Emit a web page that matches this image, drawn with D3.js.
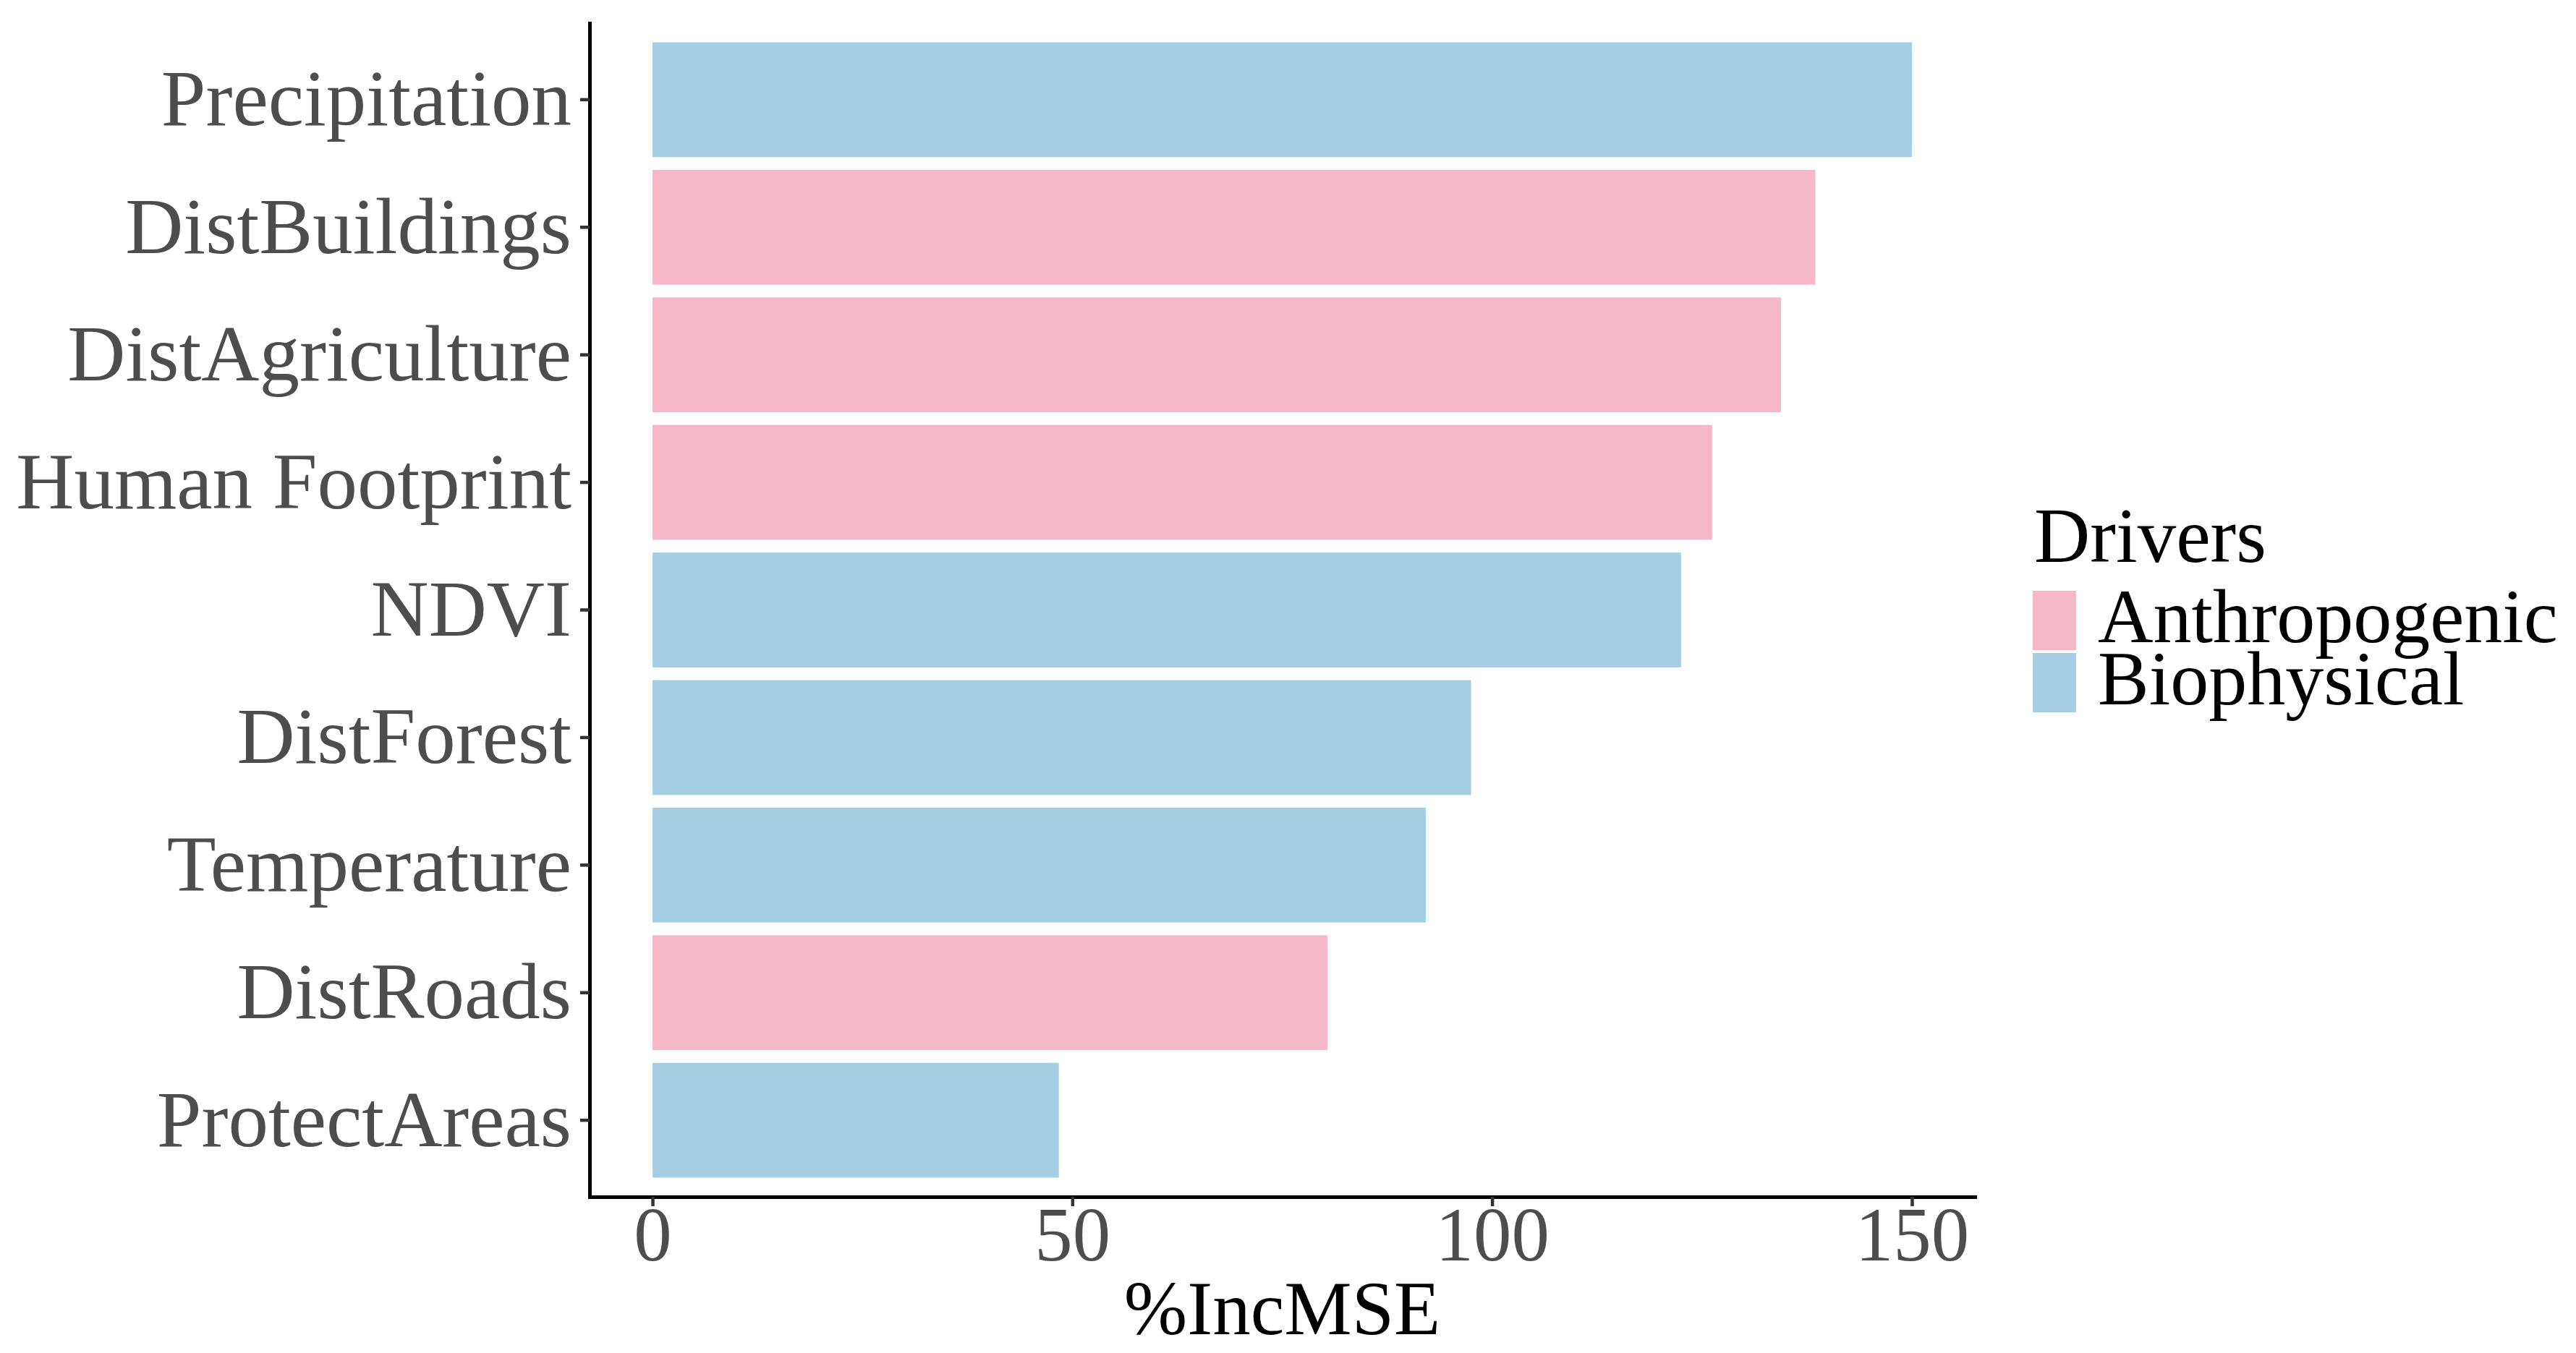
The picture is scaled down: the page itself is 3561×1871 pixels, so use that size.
<!doctype html>
<html>
<head>
<style>
  body { margin: 0; background: #fff; }
  text { font-family: "Liberation Serif", serif; }
</style>
<script src="https://d3js.org/d3.v7.min.js"></script>
</head>
<body>
<svg width="3561" height="1871"></svg>
<script>
// data
var drivers = ["Precipitation", "DistBuildings", "DistAgriculture", "Human Footprint",
               "NDVI", "DistForest", "Temperature", "DistRoads", "ProtectAreas"];
var incMSE = [150.0, 138.5, 134.4, 126.2, 122.5, 97.5, 92.1, 80.4, 48.4];
var driverType = ["Biophysical", "Anthropogenic", "Anthropogenic", "Anthropogenic",
                  "Biophysical", "Biophysical", "Biophysical", "Anthropogenic", "Biophysical"];
var groups = ["Anthropogenic", "Biophysical"];
var groupColors = ["#f6b7c9", "#a6cee3"];
var xTicks = [0, 50, 100, 150];

var svg = d3.select("svg");
var panelLeft = 815, panelRight = 2730, panelTop = 32, panelBottom = 1655;

var maxV = d3.max(incMSE);
var x = d3.scaleLinear().domain([-0.05 * maxV, 1.05 * maxV]).range([panelLeft, panelRight]);
var y = d3.scaleBand().domain(drivers).range([panelTop, panelBottom]).paddingInner(0.1).paddingOuter(0.15);
var color = d3.scaleOrdinal().domain(groups).range(groupColors);

var rows = drivers.map(function(d, i) { return {name: d, value: incMSE[i], type: driverType[i]}; });

svg.append("g").selectAll("rect")
   .data(rows)
   .enter().append("rect")
   .attr("x", x(0))
   .attr("y", function(d) { return y(d.name); })
   .attr("width", function(d) { return x(d.value) - x(0); })
   .attr("height", y.bandwidth())
   .attr("fill", function(d) { return color(d.type); });

// x axis
var gx = svg.append("g")
    .attr("transform", "translate(0," + panelBottom + ")")
    .call(d3.axisBottom(x).tickValues(xTicks).tickSize(13).tickSizeOuter(0));
gx.select(".domain").attr("stroke", "#000").attr("stroke-width", 5).attr("stroke-linecap", "square");
gx.selectAll(".tick line").attr("stroke", "#333").attr("stroke-width", 4.5);
gx.selectAll(".tick text")
  .attr("y", 88).attr("dy", 0)
  .attr("fill", "#4d4d4d")
  .style("font-size", "105px")
  .style("font-family", "Liberation Serif");

// y axis
var gy = svg.append("g")
    .attr("transform", "translate(" + panelLeft + ",0)")
    .call(d3.axisLeft(y).tickSize(13).tickSizeOuter(0));
gy.select(".domain").attr("stroke", "#000").attr("stroke-width", 5).attr("stroke-linecap", "square");
gy.selectAll(".tick line").attr("stroke", "#333").attr("stroke-width", 4.5);
gy.selectAll(".tick text")
  .attr("x", -25).attr("dy", "0.32em")
  .attr("fill", "#4d4d4d")
  .style("font-size", "111px")
  .style("font-family", "Liberation Serif");

// axis title
svg.append("text")
   .attr("x", (panelLeft + panelRight) / 2)
   .attr("y", 1845)
   .attr("text-anchor", "middle")
   .attr("fill", "#000")
   .style("font-size", "105px")
   .text("%IncMSE");

// legend
var legend = svg.append("g").attr("transform", "translate(2810,0)");
legend.append("text")
   .attr("x", 2)
   .attr("y", 777)
   .attr("fill", "#000")
   .style("font-size", "107px")
   .text("Drivers");

var items = legend.selectAll(".item")
   .data(groups)
   .enter().append("g")
   .attr("class", "item")
   .attr("transform", function(d, i) { return "translate(0," + (817 + i * 86) + ")"; });
items.append("rect")
   .attr("width", 60)
   .attr("height", 82)
   .attr("fill", function(d) { return color(d); });
items.append("text")
   .attr("x", 90)
   .attr("y", 71)
   .attr("fill", "#000")
   .style("font-size", "106px")
   .text(function(d) { return d; });
</script>
</body>
</html>
